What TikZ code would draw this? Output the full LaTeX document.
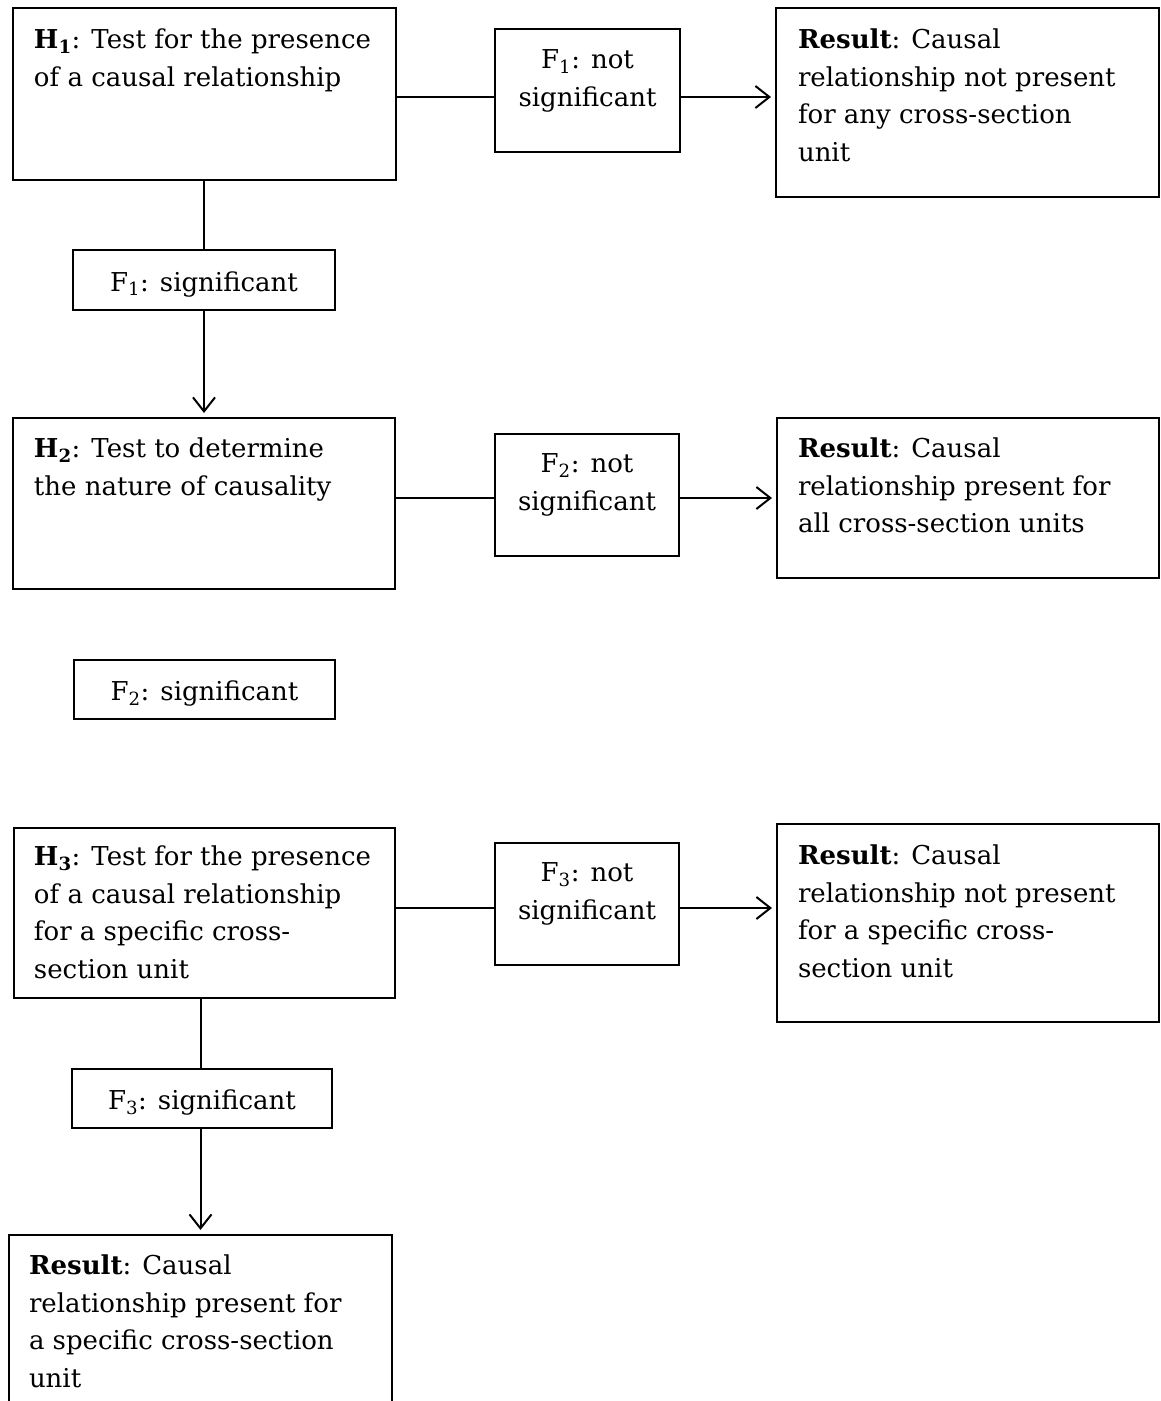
\documentclass[tikz,border=0pt]{standalone}
\usepackage{fontspec}
\setmainfont{DejaVu Serif}
\usetikzlibrary{arrows.meta}

\begin{document}
\begin{tikzpicture}[x=1pt, y=-1pt, line width=2pt,
    box/.style={draw, anchor=north west, inner sep=0pt},
    sig/.style={box, text height=22pt, text depth=0pt},
    txt/.style={anchor=north west, align=left, inner sep=0pt, execute at begin node=\strut},
    mid/.style={anchor=north, align=center, inner sep=0pt, execute at begin node=\strut},
    arr/.style={-{Straight Barb[length=14pt, width=22pt]}, shorten >=4pt}]
        \tikzstyle{every node}=[font=\fontsize{26}{37.5}\selectfont]
        \useasboundingbox (0,0) rectangle (1161,1401);
        \clip (0,0) rectangle (1161,1401);

          % boxes
          \node[box, minimum width=383pt, minimum height=172pt] (h1) at (12,7) {};
          \node[box, minimum width=185pt, minimum height=123pt] (f1n) at (494,28) {};
          \node[box, minimum width=383pt, minimum height=189pt] (res1) at (775,7) {};
          \node[sig, minimum width=262pt, minimum height=60pt] (f1s) at (72,249) {F\textsubscript{1}: significant};
          \node[box, minimum width=382pt, minimum height=171pt] (h2) at (12,417) {};
          \node[box, minimum width=184pt, minimum height=122pt] (f2n) at (494,433) {};
          \node[box, minimum width=382pt, minimum height=160pt] (res2) at (776,417) {};
          \node[sig, minimum width=261pt, minimum height=59pt] (f2s) at (73,659) {F\textsubscript{2}: significant};
          \node[box, minimum width=381pt, minimum height=170pt] (h3) at (13,827) {};
          \node[box, minimum width=184pt, minimum height=122pt] (f3n) at (494,842) {};
          \node[box, minimum width=382pt, minimum height=198pt] (res3) at (776,823) {};
          \node[sig, minimum width=260pt, minimum height=59pt] (f3s) at (71,1068) {F\textsubscript{3}: significant};
          \node[box, minimum width=383pt, minimum height=220pt] (res4) at (8,1234) {};

          % texts (first baseline about 46pt under the top edge)
          \node[txt] (h1t) at ([xshift=21pt, yshift=-21pt]h1.north west) {\textbf{H\textsubscript{1}}: Test for the presence\\of a causal relationship};
          \node[mid] (f1nt) at ([yshift=-21pt]f1n.north) {F\textsubscript{1}: not\\significant};
          \node[txt] (res1t) at ([xshift=22pt, yshift=-21pt]res1.north west) {\textbf{Result}: Causal\\relationship not present\\for any cross-section\\unit};
          \node[txt] (h2t) at ([xshift=21pt, yshift=-20pt]h2.north west) {\textbf{H\textsubscript{2}}: Test to determine\\the nature of causality};
          \node[mid] (f2nt) at ([yshift=-20pt]f2n.north) {F\textsubscript{2}: not\\significant};
          \node[txt] (res2t) at ([xshift=21pt, yshift=-20pt]res2.north west) {\textbf{Result}: Causal\\relationship present for\\all cross-section units};
          \node[txt] (h3t) at ([xshift=20pt, yshift=-18pt]h3.north west) {\textbf{H\textsubscript{3}}: Test for the presence\\of a causal relationship\\for a specific cross-\\section unit};
          \node[mid] (f3nt) at ([yshift=-20pt]f3n.north) {F\textsubscript{3}: not\\significant};
          \node[txt] (res3t) at ([xshift=21pt, yshift=-21pt]res3.north west) {\textbf{Result}: Causal\\relationship not present\\for a specific cross-\\section unit};
          \node[txt] (res4t) at ([xshift=20pt, yshift=-20pt]res4.north west) {\textbf{Result}: Causal\\relationship present for\\a specific cross-section\\unit};

          % rows of the horizontal connectors
          \coordinate (r1) at (0,97);
          \coordinate (r2) at (0,498);
          \coordinate (r3) at (0,908);

          \draw (h1.east |- r1) -- (f1n.west |- r1);
          \draw[arr] (f1n.east |- r1) -- (res1.west |- r1);
          \draw (h2.east |- r2) -- (f2n.west |- r2);
          \draw[arr] (f2n.east |- r2) -- (res2.west |- r2);
          \draw (h3.east |- r3) -- (f3n.west |- r3);
          \draw[arr] (f3n.east |- r3) -- (res3.west |- r3);

          \draw (h1.south -| f1s.north) -- (f1s.north);
          \draw[arr] (f1s.south) -- (h2.north -| f1s.south);
          \draw (h3.south -| res4.north) -- (f3s.north -| res4.north);
          \draw[arr] (f3s.south -| res4.north) -- (res4.north);

        \end{tikzpicture}
\end{document}
